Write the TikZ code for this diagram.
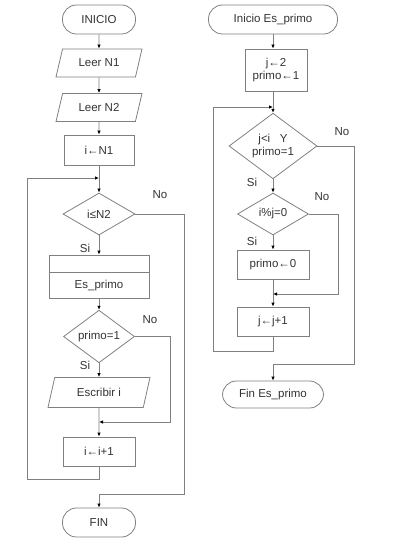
\documentclass[tikz,border=0pt]{standalone}
\usepackage{fontspec}
\setmainfont{Liberation Sans}
\usetikzlibrary{shapes.geometric,arrows.meta}

\begin{document}
\begin{tikzpicture}[
		x=1pt, y=-1pt,
		every node/.style={text=black!80, font=\fontsize{11.5}{13}\selectfont},
		caja/.style={draw=gray, line width=0.8pt},
		terminal/.style={caja, rectangle, rounded corners=14pt, minimum width=73pt, minimum height=29pt},
		proceso/.style={caja, rectangle, minimum width=72pt, minimum height=29pt},
		entrada/.style={caja, trapezium, trapezium left angle=66, trapezium right angle=114,
			trapezium stretches body, minimum width=86pt, minimum height=28pt},
		decision/.style={caja, diamond, inner sep=0pt, align=center, minimum width=72pt, minimum height=42pt},
		flecha/.style={draw=gray, line width=0.8pt, -{Latex[length=4pt,width=3.5pt,color=black]}}
	]
  \useasboundingbox (0,0) rectangle (400,556);
  % programa principal
  \node (inicio) [terminal] at (99,19.5) {INICIO};
  \node (leer_n1) [entrada] at (99,63) {Leer N1};
  \node (leer_n2) [entrada] at (99,107.5) {Leer N2};
  \node (asig_i) [proceso, minimum width=70pt, minimum height=30pt] at (99,150) {i←N1};
  \node (cond_i) [decision] at (99,214) {i≤N2};
  \node (es_primo) [caja, minimum width=100pt, minimum height=43pt] at (99,276.5) {};
  \node (es_primo_txt) at (99,286) {Es\_primo};
  \node (cond_primo) [decision, minimum width=71pt, minimum height=43pt] at (99,336.5) {primo=1};
  \node (escribir) [entrada, minimum width=102pt, minimum height=30pt] at (99,392.5) {Escribir i};
  \node (inc_i) [proceso] at (99,451.5) {i←i+1};
  \node (fin) [terminal] at (99,522.5) {FIN};
  \node (no_cond_i) at (160,195) {No};
  \node (si_cond_i) at (85,248) {Si};
  \node (no_cond_primo) at (150,320) {No};
  \node (si_cond_primo) at (85,365) {Si};
  \coordinate (join_i) at (99,178);
  \coordinate (vuelta_i) at (27,479);
  \coordinate (no_i) at (184,494);
  \coordinate (join_e) at (99,422);
  \coordinate (no_e) at (170,422);
  \draw [caja] ([yshift=-18pt]es_primo.north west) -- ([yshift=-18pt]es_primo.north east);
  \draw [flecha] (inicio) -- (leer_n1);
  \draw [flecha] (leer_n1) -- (leer_n2);
  \draw [flecha] (leer_n2) -- (asig_i);
  \draw [flecha] (asig_i) -- (cond_i);
  \draw [flecha] (cond_i) -- (es_primo);
  \draw [flecha] (es_primo) -- (cond_primo);
  \draw [flecha] (cond_primo) -- (escribir);
  \draw [flecha] (escribir) -- (inc_i);
  \draw [flecha] (cond_primo.east) -| (no_e) -- (join_e);
  \draw [flecha] (inc_i.south) |- (vuelta_i) |- (join_i);
  \draw [flecha] (cond_i.east) -| (no_i) -| (fin.north);
  % subprograma Es_primo
  \node (ini_es) [terminal, minimum width=129pt] at (273,19.5) {Inicio Es\_primo};
  \node (asig_j) [proceso, minimum width=62pt, minimum height=42pt, align=center] at (276,70) {j←2\\primo←1};
  \node (cond_j) [decision, minimum width=88pt, minimum height=50pt] at (273,146) {j<i\ \ \ Y\\primo=1};
  \node (cond_mod) [decision, minimum width=71pt] at (273,214) {i\%j=0};
  \node (primo_cero) [proceso] at (273,264.5) {primo←0};
  \node (inc_j) [proceso] at (273,321.5) {j←j+1};
  \node (fin_es) [terminal, minimum width=101pt, minimum height=27pt] at (273,394.5) {Fin Es\_primo};
  \node (no_cond_j) at (342,132) {No};
  \node (si_cond_j) at (252,182) {Si};
  \node (no_cond_mod) at (322,197) {No};
  \node (si_cond_mod) at (252,241) {Si};
  \coordinate (join_j) at (273,107);
  \coordinate (vuelta_j) at (213,351);
  \coordinate (no_j) at (354,364);
  \coordinate (join_m) at (273,294);
  \coordinate (no_m) at (338,294);
  \draw [flecha] (ini_es) -- (ini_es |- asig_j.north);
  \draw [flecha] (asig_j.south -| cond_j.north) -- (cond_j);
  \draw [flecha] (cond_j) -- (cond_mod);
  \draw [flecha] (cond_mod) -- (primo_cero);
  \draw [flecha] (primo_cero) -- (inc_j);
  \draw [flecha] (cond_mod.east) -| (no_m) -- (join_m);
  \draw [flecha] (inc_j.south) |- (vuelta_j) |- (join_j);
  \draw [flecha] (cond_j.east) -| (no_j) -| (fin_es.north);
\end{tikzpicture}
\end{document}
